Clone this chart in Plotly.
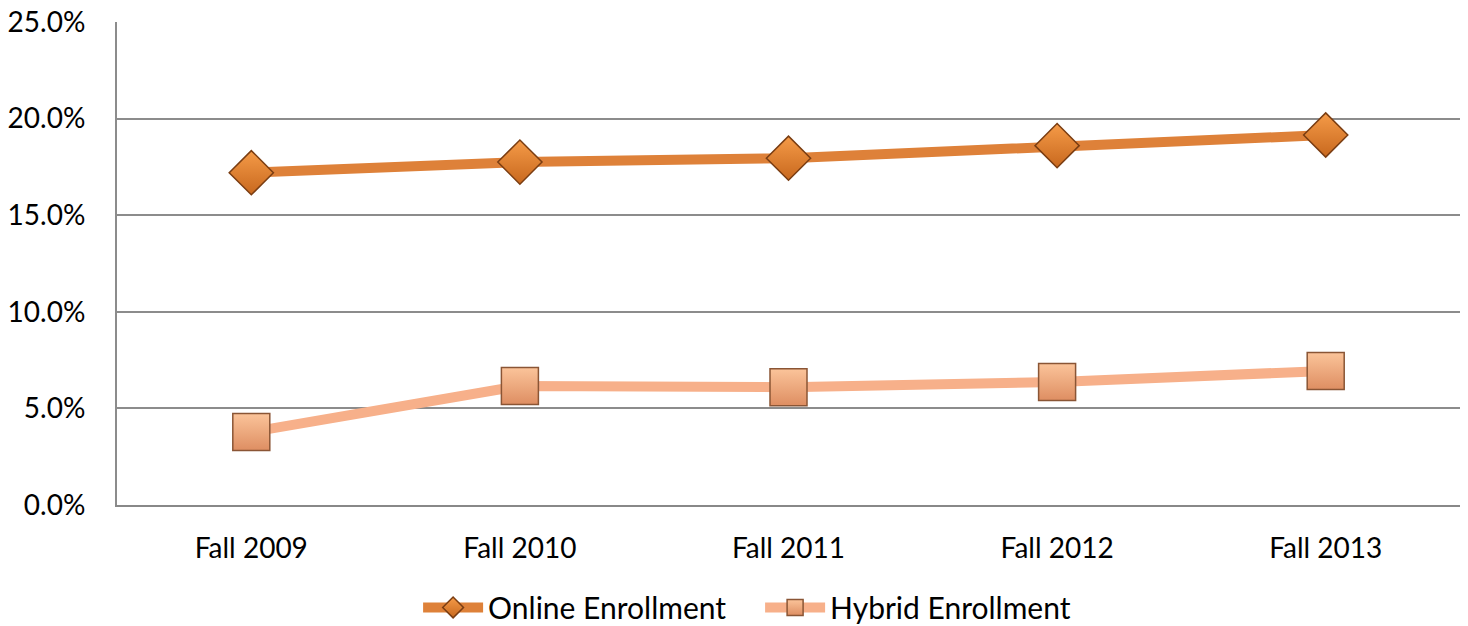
import plotly.graph_objects as go

categories = ["Fall 2009", "Fall 2010", "Fall 2011", "Fall 2012", "Fall 2013"]
online = [0.172, 0.1775, 0.1795, 0.186, 0.1915]
hybrid = [0.0378, 0.0616, 0.061, 0.0637, 0.0694]
y_ticks = [0, 0.05, 0.10, 0.15, 0.20, 0.25]

font = "Lato, Liberation Sans, sans-serif"

fig = go.Figure()
fig.add_trace(go.Scatter(
    x=categories, y=online, name="Online Enrollment", mode="lines+markers",
    line=dict(color="#DE8139", width=10),
    marker=dict(symbol="diamond", size=34, color="#F59B48",
                gradient=dict(type="vertical", color="#C8681E"),
                line=dict(color="#7A3D12", width=1.5)),
))
fig.add_trace(go.Scatter(
    x=categories, y=hybrid, name="Hybrid Enrollment", mode="lines+markers",
    line=dict(color="#F7B08A", width=10),
    marker=dict(symbol="square", size=37, color="#FBC49A",
                gradient=dict(type="vertical", color="#DE8E62"),
                line=dict(color="#8A5535", width=1.5)),
))

fig.update_layout(
    width=1468, height=626,
    margin=dict(l=117, r=8, t=22, b=121),
    plot_bgcolor="white", paper_bgcolor="white",
    font=dict(family=font, size=28, color="black"),
    showlegend=True,
    legend=dict(orientation="h", x=0.2242, xanchor="left",
                yref="container", y=0.0296, yanchor="middle",
                font=dict(size=30), itemwidth=60, tracegroupgap=0,
                entrywidth=267, entrywidthmode="pixels"),
)
fig.update_xaxes(
    type="category", range=[-0.5, 4.5], showgrid=False, automargin=False,
    showline=True, linecolor="#888888", linewidth=2,
    ticks="", tickfont=dict(size=28), ticklabelstandoff=17,
)
fig.update_yaxes(
    range=[0, 0.25], tickvals=y_ticks, tickformat=".1%", automargin=False,
    showgrid=True, gridcolor="#8C8C8C", gridwidth=1.5,
    showline=True, linecolor="#8C8C8C", linewidth=2,
    zeroline=False, ticks="", tickfont=dict(size=28), ticklabelstandoff=24,
    ticklabeloverflow="allow",
)

fig.write_html("out.html", config={"displayModeBar": False},
               post_script="document.body.style.margin='0';document.body.style.overflow='hidden';")
